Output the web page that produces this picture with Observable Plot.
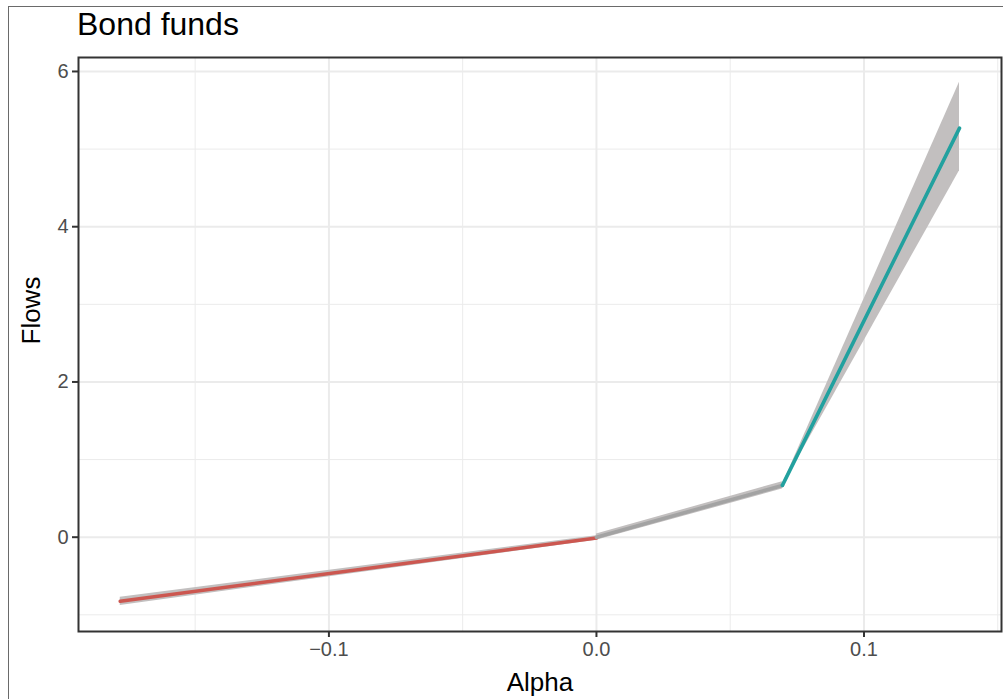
<!DOCTYPE html>
<html>
<head>
<meta charset="utf-8">
<script src="https://cdn.jsdelivr.net/npm/d3@7"></script>
<script src="https://cdn.jsdelivr.net/npm/@observablehq/plot@0.6"></script>
<style>
  html, body { margin: 0; padding: 0; background: #fff; }
  #wrap { position: relative; width: 1003px; height: 699px; overflow: hidden; font-family: "Liberation Sans", Arial, sans-serif; }
  #frame { position: absolute; left: 8px; top: 6px; width: 1200px; height: 900px; border: 1.5px solid #6a6a6a; box-sizing: border-box; }
  #title { position: absolute; left: 77px; top: 6px; font-size: 32px; color: #000; line-height: 36px; }
  #chart { position: absolute; left: 0; top: 0; }
</style>
</head>
<body>
<div id="wrap">
  <div id="frame"></div>
  <div id="chart"></div>
  <div id="title">Bond funds</div>
</div>
<script>
// Data (piecewise fitted flows with confidence band)
const segGroup  = ["neg", "neg", "mid", "mid", "pos", "pos"];
const alphaVals = [-0.178, 0.0, 0.0, 0.0695, 0.0695, 0.1357];
const flowVals  = [-0.826, -0.01, 0.0, 0.667, 0.667, 5.27];
const lowerVals = [-0.88, -0.04, -0.04, 0.62, 0.655, 4.72];
const upperVals = [-0.775, 0.02, 0.04, 0.715, 0.68, 5.86];

const groups = ["neg", "mid", "pos"];
const groupColors = ["#cc5750", "#a3a3a3", "#22a19f"];

const xTicks = [-0.1, 0.0, 0.1];
const xMinor = [-0.15, -0.05, 0.05, 0.15];
const yTicks = [0, 2, 4, 6];
const yMinor = [-1, 1, 3, 5];

const rows = segGroup.map((g, i) => ({
  group: g, alpha: alphaVals[i], flow: flowVals[i], lo: lowerVals[i], hi: upperVals[i]
}));

const fmt = d3.format(".1f");

const chart = Plot.plot({
  width: 1003,
  height: 699,
  marginLeft: 78,
  marginRight: 2,
  marginTop: 57,
  marginBottom: 68,
  style: { fontFamily: "Liberation Sans, Arial, sans-serif", background: "transparent", overflow: "visible" },
  x: { domain: [-0.1936, 0.1514] },
  y: { domain: [-1.215, 6.18] },
  color: { domain: groups, range: groupColors },
  marks: [
    Plot.gridX(xMinor, { stroke: "#ebebeb", strokeOpacity: 1, strokeWidth: 1 }),
    Plot.gridY(yMinor, { stroke: "#ebebeb", strokeOpacity: 1, strokeWidth: 1 }),
    Plot.gridX(xTicks, { stroke: "#ebebeb", strokeOpacity: 1, strokeWidth: 2 }),
    Plot.gridY(yTicks, { stroke: "#ebebeb", strokeOpacity: 1, strokeWidth: 2 }),
    Plot.areaY(rows, { x: "alpha", y1: "lo", y2: "hi", z: "group", fill: "#c2bfbf", fillOpacity: 1 }),
    Plot.line(rows, { x: "alpha", y: "flow", z: "group", stroke: "group", strokeWidth: 3.6 }),
    Plot.frame({ stroke: "#333333", strokeWidth: 2 }),
    Plot.axisX(xTicks, {
      tickFormat: fmt, tickSize: 6, tickPadding: 4, stroke: "#333333", strokeWidth: 2,
      fontSize: 20, color: "#4d4d4d", label: null
    }),
    Plot.axisY(yTicks, {
      tickFormat: d => String(d), tickSize: 6, tickPadding: 4, stroke: "#333333", strokeWidth: 2,
      fontSize: 20, color: "#4d4d4d", label: null
    }),
    Plot.text(["Alpha"], { frameAnchor: "bottom", dy: 59, fontSize: 26, fill: "#000" }),
    Plot.text(["Flows"], { frameAnchor: "left", dx: -47, rotate: -90, fontSize: 26, fill: "#000" })
  ]
});
document.getElementById("chart").appendChild(chart);
</script>
</body>
</html>
